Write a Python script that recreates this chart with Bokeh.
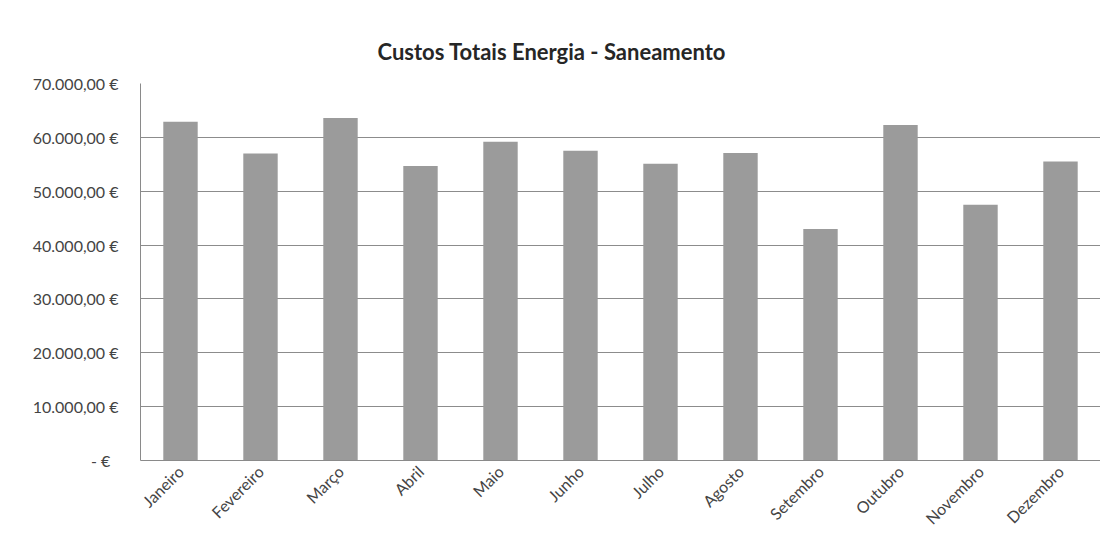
from bokeh.plotting import figure
from bokeh.models import FixedTicker, Range1d
from bokeh.embed import file_html
from bokeh.resources import INLINE
import math

months = ["Janeiro", "Fevereiro", "Março", "Abril", "Maio", "Junho",
          "Julho", "Agosto", "Setembro", "Outubro", "Novembro", "Dezembro"]
costs = [62900, 57000, 63600, 54700, 59200, 57500,
         55100, 57100, 43000, 62300, 47500, 55500]
y_ticks = [0, 10000, 20000, 30000, 40000, 50000, 60000, 70000]
y_tick_labels = ["-   €", "10.000,00 €", "20.000,00 €", "30.000,00 €",
                 "40.000,00 €", "50.000,00 €", "60.000,00 €", "70.000,00 €"]
title_text = "Custos Totais Energia - Saneamento"

FONT = "Lato"

p = figure(x_range=months, y_range=Range1d(0, 70000), width=1100, height=540,
           output_backend="svg", toolbar_location=None,
           min_border_left=140, min_border_right=0, min_border_top=83,
           min_border_bottom=80, title=title_text)
p.vbar(x=months, top=costs, width=0.43, fill_color="#9b9b9b", line_color=None)

p.outline_line_color = None
p.background_fill_color = "white"

p.title.align = "left"
p.title.offset = 237
p.title.standoff = 38
p.title.text_font = FONT
p.title.text_font_size = "22px"
p.title.text_font_style = "bold"
p.title.text_color = "#262626"

p.yaxis.ticker = FixedTicker(ticks=y_ticks)
p.yaxis.major_label_overrides = {t: l for t, l in zip(y_ticks, y_tick_labels)}
p.yaxis.major_tick_out = 0
p.yaxis.major_tick_in = 0
p.yaxis.minor_tick_out = 0
p.yaxis.minor_tick_in = 0
p.yaxis.major_label_standoff = 22
p.yaxis.axis_line_color = "#8a8a8a"
p.yaxis.major_label_text_font = FONT
p.yaxis.major_label_text_font_size = "16px"
p.yaxis.major_label_text_color = "#444444"

p.xaxis.major_tick_out = 0
p.xaxis.major_tick_in = 0
p.xaxis.axis_line_color = "#8a8a8a"
p.xaxis.major_label_orientation = math.pi / 4
p.xaxis.major_label_standoff = 8
p.xaxis.major_label_text_font = FONT
p.xaxis.major_label_text_font_size = "16px"
p.xaxis.major_label_text_color = "#444444"

p.xgrid.grid_line_color = None
p.ygrid.grid_line_color = "#8c8c8c"
p.ygrid.grid_line_width = 1

open("out.html", "w").write(file_html(p, INLINE))
